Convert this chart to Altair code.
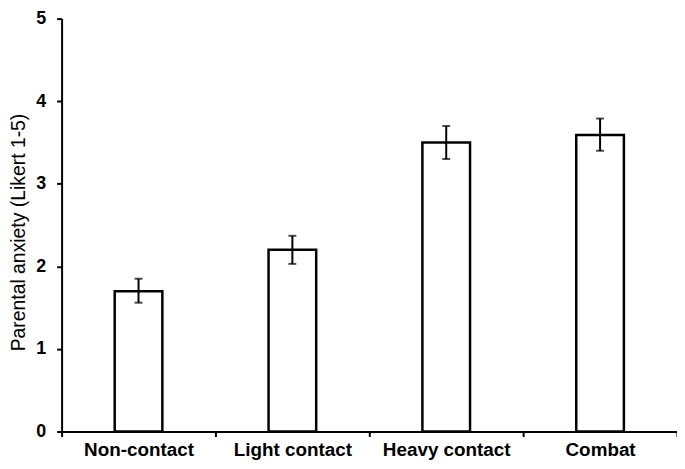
import altair as alt
import pandas as pd

categories = ["Non-contact", "Light contact", "Heavy contact", "Combat"]
means = [1.70, 2.20, 3.50, 3.59]
lower = [1.56, 2.03, 3.30, 3.40]
upper = [1.85, 2.37, 3.70, 3.79]

df = pd.DataFrame({"group": categories, "mean": means, "lo": lower, "hi": upper})

FONT = "Liberation Sans"

x_enc = alt.X(
    "group:N",
    sort=categories,
    title=None,
    scale=alt.Scale(paddingInner=0, paddingOuter=0),
    axis=alt.Axis(
        labelAngle=0,
        labelFont=FONT,
        labelFontWeight="bold",
        labelFontSize=19,
        labelColor="black",
        labelPadding=4,
        tickBand="extent",
        tickSize=5,
        tickWidth=2,
        tickColor="black",
        domainColor="black",
        domainWidth=2,
    ),
)

y_enc = alt.Y(
    "mean:Q",
    scale=alt.Scale(domain=[0, 5], nice=False),
    axis=alt.Axis(
        values=[0, 1, 2, 3, 4, 5],
        format="d",
        title="Parental anxiety (Likert 1-5)",
        titleFont=FONT,
        titleFontWeight="normal",
        titleFontSize=19.5,
        titleColor="black",
        titleX=-37,
        titleY=215,
        titleBaseline="alphabetic",
        labelFont=FONT,
        labelFontWeight="bold",
        labelFontSize=18,
        labelColor="black",
        labelPadding=11,
        tickSize=5,
        tickWidth=2,
        tickColor="black",
        domainColor="black",
        domainWidth=2,
        grid=False,
    ),
)

bars = alt.Chart(df).mark_bar(
    size=48, fill="white", stroke="black", strokeWidth=2.5
).encode(x=x_enc, y=y_enc)

err = alt.Chart(df).mark_rule(color="black", strokeWidth=2).encode(
    x=alt.X("group:N", sort=categories),
    y="lo:Q",
    y2="hi:Q",
)

cap_lo = alt.Chart(df).mark_tick(color="black", size=8, thickness=2).encode(
    x=alt.X("group:N", sort=categories),
    y="lo:Q",
)
cap_hi = alt.Chart(df).mark_tick(color="black", size=8, thickness=2).encode(
    x=alt.X("group:N", sort=categories),
    y="hi:Q",
)

chart = (
    alt.layer(bars, err, cap_lo, cap_hi)
    .properties(
        width=620,
        height=416,
        autosize=alt.AutoSizeParams(type="none"),
        padding={"left": 54, "top": 9, "right": 0, "bottom": 28},
    )
    .configure_view(stroke=None)
)

chart.save("out.html", embed_options={"renderer": "svg", "actions": False})
